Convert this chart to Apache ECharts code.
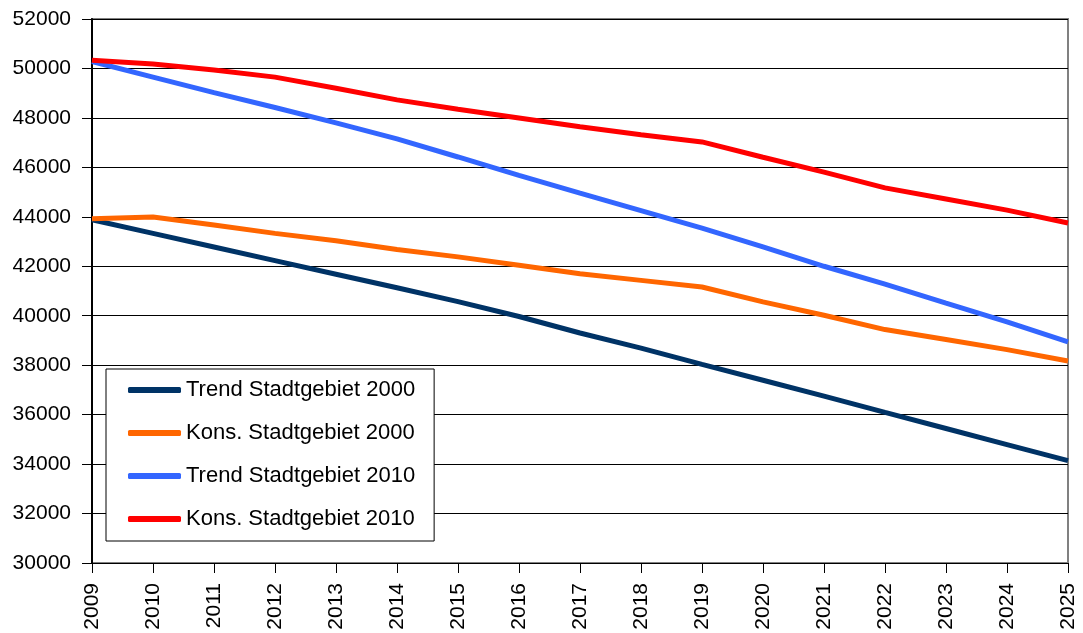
<!DOCTYPE html>
<html lang="de">
<head>
    <meta charset="UTF-8">
    <title>Bevölkerungsprognose</title>
    <script src="https://cdn.jsdelivr.net/npm/echarts@6/dist/echarts.min.js"></script>
    <style>
        html, body { margin: 0; padding: 0; background: #fff; }
        #chart { width: 1083px; height: 633px; }
    </style>
</head>
<body>
<div id="chart"></div>
<script>
    // Jahre (x-Achse)
    var years = ['2009', '2010', '2011', '2012', '2013', '2014', '2015', '2016', '2017',
        '2018', '2019', '2020', '2021', '2022', '2023', '2024', '2025'];

    // Werte
    var trend2000 = [43880, 43330, 42780, 42230, 41680, 41130, 40570, 39970, 39300,
        38690, 38030, 37390, 36750, 36090, 35440, 34790, 34140];
    var kons2000 = [43920, 43990, 43670, 43330, 43030, 42680, 42380, 42040, 41700,
        41430, 41160, 40560, 40020, 39440, 39040, 38630, 38170];
    var trend2010 = [50280, 49650, 49020, 48420, 47800, 47150, 46420, 45680, 44960,
        44250, 43540, 42780, 42000, 41280, 40510, 39750, 38940];
    var kons2010 = [50330, 50180, 49940, 49650, 49200, 48730, 48350, 48000, 47640,
        47320, 47030, 46410, 45810, 45170, 44720, 44270, 43750];

    var names = ['Trend Stadtgebiet 2000', 'Kons. Stadtgebiet 2000', 'Trend Stadtgebiet 2010', 'Kons. Stadtgebiet 2010'];
    var colors = ['#003366', '#FF6600', '#3366FF', '#FF0000'];
    var values = [trend2000, kons2000, trend2010, kons2010];

    var font = '"Liberation Sans", Arial, sans-serif';

    var myChart = echarts.init(document.getElementById('chart'));

    var option = {
        animation: false,
        color: colors,
        textStyle: { fontFamily: font },
        grid: {
            left: 92, right: 15, top: 19, bottom: 70,
            outerBoundsMode: 'none',
            containLabel: false,
            show: true,
            borderColor: '#808080',
            borderWidth: 2
        },
        legend: {
            orient: 'vertical',
            left: 106,
            top: 369,
            padding: [9, 19, 10, 22],
            backgroundColor: '#fff',
            borderColor: '#000',
            borderWidth: 1,
            borderRadius: 0,
            itemGap: 19,
            itemWidth: 53,
            itemHeight: 6,
            icon: 'roundRect',
            textStyle: { fontFamily: font, fontSize: 22, color: '#000', lineHeight: 24 },
            data: names
        },
        xAxis: {
            type: 'category',
            data: years,
            boundaryGap: false,
            axisLine: { lineStyle: { color: '#000', width: 1 } },
            axisTick: { alignWithLabel: true, length: 10, lineStyle: { color: '#000' } },
            axisLabel: {
                rotate: 90,
                margin: 20,
                fontFamily: font,
                fontSize: 21,
                color: '#000',
                interval: 0
            },
            splitLine: { show: false }
        },
        yAxis: {
            type: 'value',
            min: 30000,
            max: 52000,
            interval: 2000,
            axisLine: { show: true, lineStyle: { color: '#000', width: 2 } },
            axisTick: { show: true, length: 10, lineStyle: { color: '#000' } },
            axisLabel: {
                margin: 21,
                fontFamily: font,
                fontSize: 21,
                color: '#000',
                formatter: function (v) { return String(v); }
            },
            splitLine: { lineStyle: { color: '#000', width: 1 } }
        },
        series: values.map(function (v, i) {
            return {
                name: names[i],
                type: 'line',
                data: v,
                showSymbol: false,
                symbol: 'none',
                lineStyle: { width: 5, color: colors[i] },
                itemStyle: { color: colors[i] }
            };
        })
    };

    myChart.setOption(option);
</script>
</body>
</html>
